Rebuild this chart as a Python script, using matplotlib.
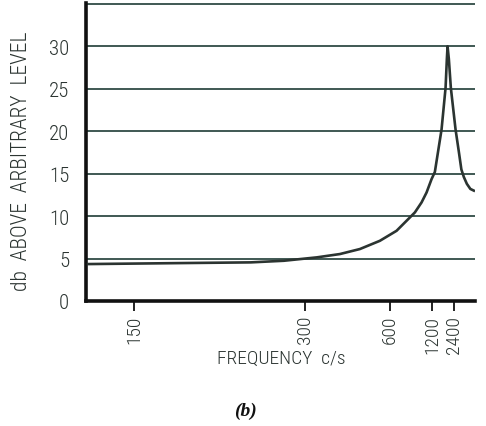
import numpy as np
import matplotlib
matplotlib.use("Agg")
import matplotlib.pyplot as plt
from matplotlib.ticker import FixedLocator, NullLocator

# Response curve (frequency in c/s, level in db)
freq = [132.2, 175.7, 228.2, 267.6, 323.4, 378.5, 444.2, 537.5, 651.8, 747,
        850, 956.4, 1055, 1176, 1273, 1527, 1735, 1815, 1861, 1953, 2114,
        2624, 3200, 3735, 4569, 6240, 10890, 42600]
level = [4.35, 4.47, 4.55, 4.74, 5.14, 5.53, 6.12, 7.09, 8.27, 9.45,
         10.43, 11.61, 12.78, 14.35, 15.2, 20.2, 25.1, 28.5, 30.0, 28.5, 25.1,
         20.2, 17.4, 15.5, 14.6, 13.8, 13.2, 13.0]

freq_ticks = [150, 300, 600, 1200, 2400]
freq_labels = ["150", "300", "600", "1200", "2400"]
level_ticks = [0, 5, 10, 15, 20, 25, 30]
grid_levels = [5, 10, 15, 20, 25, 30, 35]

font = "Roboto Condensed"
ink = "#2b3431"
grid_col = "#3f5853"


# the frequency axis of the original is linear in 1/f
def fwd(f):
    with np.errstate(divide="ignore", invalid="ignore"):
        return -1.0 / np.asarray(f, dtype=float)


def inv(u):
    with np.errstate(divide="ignore", invalid="ignore"):
        return -1.0 / np.asarray(u, dtype=float)


fig = plt.figure(figsize=(4.86, 4.27), dpi=100)
ax = fig.add_axes([86 / 486, 1 - 302 / 427, (475 - 86) / 486, (302 - 4) / 427])

ax.set_xscale("function", functions=(fwd, inv))
ax.set_xlim(131.5, 1e6)
ax.set_ylim(0, 35.1)

for g in grid_levels:
    ax.axhline(g, color=grid_col, lw=1.4, zorder=1)

ax.plot(freq, level, color=ink, lw=1.9, zorder=3, solid_joinstyle="round")

for side in ["top", "right"]:
    ax.spines[side].set_visible(False)
for side in ["left", "bottom"]:
    ax.spines[side].set_linewidth(2.6)
    ax.spines[side].set_color("#111111")

ax.xaxis.set_major_locator(FixedLocator(freq_ticks))
ax.xaxis.set_minor_locator(NullLocator())
ax.set_xticklabels(freq_labels, rotation=90, fontfamily=font, fontweight="light",
                   fontsize=14, color=ink)
ax.tick_params(axis="x", length=7, width=1.4, color="#222222", pad=3)

ax.set_yticks(level_ticks)
ax.set_yticklabels([str(v) for v in level_ticks], fontfamily=font, fontweight="light",
                   fontsize=15, color=ink)
ax.tick_params(axis="y", length=0, pad=12)

fig.text(281 / 486, 1 - 359 / 427, "FREQUENCY  c/s", ha="center", va="center",
         fontfamily=font, fontweight="light", fontsize=14, color=ink)
fig.text(22 / 486, 1 - 161 / 427, "db  ABOVE  ARBITRARY  LEVEL", ha="center", va="center",
         rotation=90, fontfamily=font, fontweight="light", fontsize=15.5, color=ink)
fig.text(245 / 486, 1 - 411 / 427, "(b)", ha="center", va="center",
         fontfamily="Liberation Serif", fontweight="bold", fontstyle="italic",
         fontsize=14, color="#111111")

fig.savefig("out.png", dpi=100)
